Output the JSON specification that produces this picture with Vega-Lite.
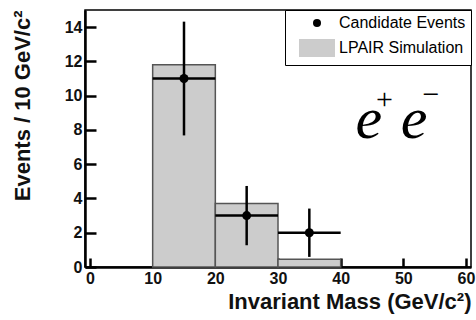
{
  "$schema": "https://vega.github.io/schema/vega-lite/v6.json",
  "width": 386,
  "height": 257,
  "autosize": {"type": "none"},
  "padding": {"left": 85, "top": 10, "right": 5, "bottom": 53},
  "background": "white",
  "config": {
    "view": {"stroke": "black", "strokeWidth": 1.5},
    "font": "Liberation Sans",
    "axis": {
      "grid": false,
      "ticks": true,
      "domain": true,
      "domainColor": "black",
      "domainWidth": 2.5,
      "tickColor": "black",
      "tickWidth": 2.5,
      "labelOverlap": false,
      "labelFont": "Liberation Sans",
      "labelFontWeight": "bold",
      "labelFontSize": 16,
      "labelColor": "#111111",
      "titleFont": "Liberation Sans",
      "titleFontWeight": "bold",
      "titleFontSize": 22,
      "titleColor": "#111111"
    }
  },
  "datasets": {
    "hist": [
      {"lo": 10, "hi": 20, "count": 11.8},
      {"lo": 20, "hi": 30, "count": 3.7},
      {"lo": 30, "hi": 40, "count": 0.45}
    ],
    "events": [
      {"m": 15, "lo": 10, "hi": 20, "n": 11, "elo": 7.68, "ehi": 14.32, "series": "Candidate Events"},
      {"m": 25, "lo": 20, "hi": 30, "n": 3, "elo": 1.27, "ehi": 4.73, "series": "Candidate Events"},
      {"m": 35, "lo": 30, "hi": 40, "n": 2, "elo": 0.59, "ehi": 3.41, "series": "Candidate Events"}
    ],
    "base": [
      {"px": 44.5, "py": 7.53, "t": "e"},
      {"px": 51.7, "py": 7.53, "t": "e"}
    ],
    "sup": [
      {"px": 46.97, "py": 9.22, "t": "+"},
      {"px": 54.4, "py": 9.49, "t": "−"}
    ]
  },
  "layer": [
    {
      "data": {"name": "hist"},
      "mark": {"type": "bar", "fill": "#cccccc", "stroke": "#555555", "strokeWidth": 1.5, "orient": "vertical"},
      "encoding": {
        "x": {
          "field": "lo", "type": "quantitative",
          "scale": {"domain": [0, 60], "nice": false, "zero": false},
          "axis": {"values": [0, 10, 20, 30, 40, 50, 60], "ticks": true, "tickSize": -9, "tickColor": "black", "labelPadding": 12, "labelOverlap": false, "title": "Invariant Mass (GeV/c²)", "titleAnchor": "end", "titlePadding": 5}
        },
        "x2": {"field": "hi"},
        "y": {
          "field": "count", "type": "quantitative",
          "scale": {"domain": [0, 15], "nice": false},
          "axis": {"values": [0, 2, 4, 6, 8, 10, 12, 14], "ticks": true, "tickSize": -11, "tickColor": "black", "labelPadding": 14, "labelOverlap": false, "title": "Events / 10 GeV/c²", "titleAnchor": "end", "titlePadding": 30}
        },
        "y2": {"datum": 0}
      }
    },
    {
      "data": {"name": "events"},
      "mark": {"type": "rule", "color": "black", "strokeWidth": 2.5},
      "encoding": {
        "x": {"field": "m", "type": "quantitative",
          "axis": {"values": [0, 10, 20, 30, 40, 50, 60], "ticks": true, "tickSize": -9, "tickColor": "black", "labelPadding": 12, "labelOverlap": false, "title": "Invariant Mass (GeV/c²)", "titleAnchor": "end", "titlePadding": 5}},
        "y": {"field": "elo", "type": "quantitative",
          "axis": {"values": [0, 2, 4, 6, 8, 10, 12, 14], "ticks": true, "tickSize": -11, "tickColor": "black", "labelPadding": 14, "labelOverlap": false, "title": "Events / 10 GeV/c²", "titleAnchor": "end", "titlePadding": 30}},
        "y2": {"field": "ehi"}
      }
    },
    {
      "data": {"name": "events"},
      "mark": {"type": "rule", "color": "black", "strokeWidth": 2.5},
      "encoding": {
        "x": {"field": "lo", "type": "quantitative",
          "axis": {"values": [0, 10, 20, 30, 40, 50, 60], "ticks": true, "tickSize": -9, "tickColor": "black", "labelPadding": 12, "labelOverlap": false, "title": "Invariant Mass (GeV/c²)", "titleAnchor": "end", "titlePadding": 5}},
        "x2": {"field": "hi"},
        "y": {"field": "n", "type": "quantitative",
          "axis": {"values": [0, 2, 4, 6, 8, 10, 12, 14], "ticks": true, "tickSize": -11, "tickColor": "black", "labelPadding": 14, "labelOverlap": false, "title": "Events / 10 GeV/c²", "titleAnchor": "end", "titlePadding": 30}}
      }
    },
    {
      "data": {"name": "base"},
      "mark": {"type": "text", "font": "Liberation Serif", "fontStyle": "italic", "fontSize": 60, "align": "center", "baseline": "alphabetic", "color": "black"},
      "encoding": {
        "x": {"field": "px", "type": "quantitative",
          "axis": {"values": [0, 10, 20, 30, 40, 50, 60], "ticks": true, "tickSize": -9, "tickColor": "black", "labelPadding": 12, "labelOverlap": false, "title": "Invariant Mass (GeV/c²)", "titleAnchor": "end", "titlePadding": 5}},
        "y": {"field": "py", "type": "quantitative",
          "axis": {"values": [0, 2, 4, 6, 8, 10, 12, 14], "ticks": true, "tickSize": -11, "tickColor": "black", "labelPadding": 14, "labelOverlap": false, "title": "Events / 10 GeV/c²", "titleAnchor": "end", "titlePadding": 30}},
        "text": {"field": "t"}
      }
    },
    {
      "data": {"name": "sup"},
      "mark": {"type": "text", "font": "Liberation Serif", "fontSize": 30, "align": "center", "baseline": "alphabetic", "color": "black"},
      "encoding": {
        "x": {"field": "px", "type": "quantitative",
          "axis": {"values": [0, 10, 20, 30, 40, 50, 60], "ticks": true, "tickSize": -9, "tickColor": "black", "labelPadding": 12, "labelOverlap": false, "title": "Invariant Mass (GeV/c²)", "titleAnchor": "end", "titlePadding": 5}},
        "y": {"field": "py", "type": "quantitative",
          "axis": {"values": [0, 2, 4, 6, 8, 10, 12, 14], "ticks": true, "tickSize": -11, "tickColor": "black", "labelPadding": 14, "labelOverlap": false, "title": "Events / 10 GeV/c²", "titleAnchor": "end", "titlePadding": 30}},
        "text": {"field": "t"}
      }
    },
    {
      "data": {"name": "events"},
      "mark": {"type": "point", "filled": true, "size": 81, "opacity": 1, "strokeWidth": 0},
      "encoding": {
        "x": {"field": "m", "type": "quantitative",
          "axis": {"values": [0, 10, 20, 30, 40, 50, 60], "ticks": true, "tickSize": -9, "tickColor": "black", "labelPadding": 12, "labelOverlap": false, "title": "Invariant Mass (GeV/c²)", "titleAnchor": "end", "titlePadding": 5}},
        "y": {"field": "n", "type": "quantitative",
          "axis": {"values": [0, 2, 4, 6, 8, 10, 12, 14], "ticks": true, "tickSize": -11, "tickColor": "black", "labelPadding": 14, "labelOverlap": false, "title": "Events / 10 GeV/c²", "titleAnchor": "end", "titlePadding": 30}},
        "color": {
          "field": "series", "type": "nominal",
          "scale": {"domain": ["Candidate Events", "LPAIR Simulation"], "range": ["black", "#cccccc"]},
          "legend": {
            "title": null,
            "orient": "top-right",
            "offset": 0,
            "padding": 5,
            "strokeColor": "black",
            "fillColor": "white",
            "labelFont": "Liberation Sans",
            "labelFontSize": 16,
            "labelColor": "black",
            "labelOffset": 14,
            "symbolOffset": 19,
            "rowPadding": 5,
            "symbolSize": 64,
            "symbolStrokeColor": "#555555",
            "symbolStrokeWidth": 1.5,
            "symbolOpacity": 1,
            "labelExpr": "datum.label + '\u00a0\u00a0\u00a0\u00a0\u00a0'"
          }
        },
        "shape": {
          "field": "series", "type": "nominal",
          "scale": {"domain": ["Candidate Events", "LPAIR Simulation"], "range": ["circle", "M-4.5,-2.25H4.5V2.25H-4.5Z"]},
          "legend": {
            "title": null,
            "orient": "top-right",
            "offset": 0,
            "padding": 5,
            "strokeColor": "black",
            "fillColor": "white",
            "labelFont": "Liberation Sans",
            "labelFontSize": 16,
            "labelColor": "black",
            "labelOffset": 14,
            "symbolOffset": 19,
            "rowPadding": 5,
            "symbolSize": 64,
            "symbolStrokeColor": "#555555",
            "symbolStrokeWidth": 1.5,
            "symbolOpacity": 1,
            "labelExpr": "datum.label + '\u00a0\u00a0\u00a0\u00a0\u00a0'"
          }
        }
      }
    }
  ]
}
